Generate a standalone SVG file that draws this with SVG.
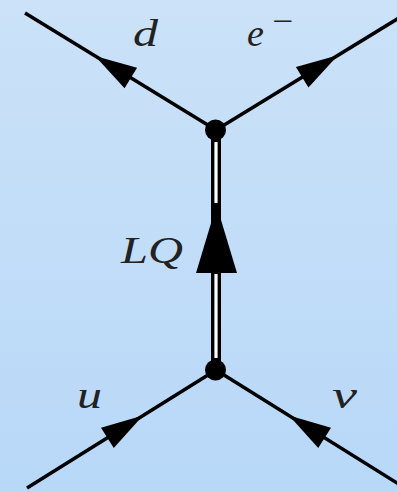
<svg xmlns="http://www.w3.org/2000/svg" xmlns:xlink="http://www.w3.org/1999/xlink" width="397" height="492" viewBox="0 0 397 492">
  <defs>
    <linearGradient id="bg" x1="0" y1="0" x2="0" y2="1">
      <stop offset="0" stop-color="#cbe2f8"/>
      <stop offset="1" stop-color="#b8d8f8"/>
    </linearGradient>
    <polygon id="arr" points="0,0 -42,-12 -42,12" fill="#000"/>
  </defs>
  <style>
    .f { stroke: #000; stroke-width: 3.5; fill: none; }
    .lbl { font-family: "Liberation Serif", "Times New Roman", serif; font-style: italic; fill: #222; font-size: 38px; }
    .dot { fill: #000; }
  </style>
  <rect width="397" height="492" fill="url(#bg)"/>

  <g id="connectors">
    <g id="fermion-d">
      <line class="f" x1="25" y1="13" x2="216" y2="130"/>
      <use xlink:href="#arr" transform="translate(95,56) rotate(211.5)"/>
    </g>
    <g id="fermion-e">
      <line class="f" x1="216" y1="130" x2="407" y2="13"/>
      <use xlink:href="#arr" transform="translate(338,55.3) rotate(-31.5)"/>
    </g>
    <g id="fermion-u">
      <line class="f" x1="27" y1="488" x2="216" y2="370"/>
      <use xlink:href="#arr" transform="translate(143,415.6) rotate(-32)"/>
    </g>
    <g id="fermion-nu">
      <line class="f" x1="216" y1="370" x2="405" y2="488"/>
      <use xlink:href="#arr" transform="translate(289,415.6) rotate(212)"/>
    </g>
    <g id="leptoquark">
      <line x1="216" y1="130" x2="216" y2="370" stroke="#000" stroke-width="10"/>
      <line x1="216" y1="142" x2="216" y2="203" stroke="#fff" stroke-width="3.2"/>
      <line x1="216" y1="274" x2="216" y2="358" stroke="#fff" stroke-width="3.2"/>
      <polygon points="216.5,205 196,273 237,273" fill="#000"/>
    </g>
  </g>

  <g id="vertex-top"><circle class="dot" cx="215.5" cy="130" r="10.5"/></g>
  <g id="vertex-bottom"><circle class="dot" cx="215.5" cy="370" r="10.5"/></g>

  <g id="labels">
    <text class="lbl" x="133" y="46" textLength="25" lengthAdjust="spacingAndGlyphs">d</text>
    <text class="lbl" x="247" y="46">e<tspan x="272" y="32" font-style="normal" font-size="32" textLength="21" lengthAdjust="spacingAndGlyphs">−</tspan></text>
    <text class="lbl" x="121" y="263" font-size="38" textLength="62" lengthAdjust="spacingAndGlyphs">LQ</text>
    <text class="lbl" x="77" y="408" textLength="25" lengthAdjust="spacingAndGlyphs">u</text>
    <text class="lbl" x="332" y="408" textLength="25" lengthAdjust="spacingAndGlyphs">ν</text>
  </g>
</svg>
